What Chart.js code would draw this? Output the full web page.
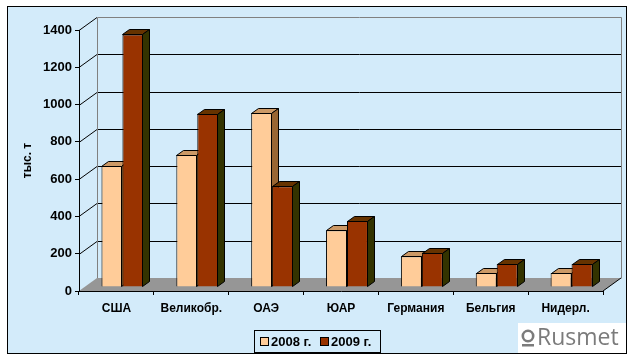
<!DOCTYPE html>
<html>
<head>
<meta charset="utf-8">
<script src="https://cdn.jsdelivr.net/npm/chart.js"></script>
<style>
  html, body { margin: 0; padding: 0; background: #fff; }
  canvas { display: block; }
</style>
</head>
<body>
<canvas id="importChart" width="637" height="362"></canvas>
<script>
// Imports by country, thousand tonnes
const countries = ['США', 'Великобр.', 'ОАЭ', 'ЮАР', 'Германия', 'Бельгия', 'Нидерл.'];
const values2008 = [650, 710, 935, 305, 165, 75, 75];
const values2009 = [1355, 930, 540, 355, 185, 125, 125];
const seriesNames = ['2008 г.', '2009 г.'];
const yTicks = [0, 200, 400, 600, 800, 1000, 1200, 1400];

const FONT = "'Liberation Sans', Arial, sans-serif";
const BG = '#d3ebfa';

// 3d look: floor depth, where the bars stand, and bar depth
const wallDepth = { x: 18, y: 13 };
const barShift = { x: 6, y: 4 };
const barDepth = { x: 7, y: 5 };

const faceColors = ['#ffcc99', '#993300'];
const topColors = ['#cc9966', '#663300'];
const sideColors = ['#996633', '#333300'];

function poly(ctx, pts, fill, stroke) {
    ctx.beginPath();
    ctx.moveTo(pts[0][0], pts[0][1]);
    for (let i = 1; i < pts.length; i++) ctx.lineTo(pts[i][0], pts[i][1]);
    ctx.closePath();
    if (fill) { ctx.fillStyle = fill; ctx.fill(); }
    if (stroke) { ctx.strokeStyle = stroke; ctx.lineWidth = 1; ctx.stroke(); }
}

function line(ctx, x1, y1, x2, y2, color) {
    ctx.beginPath();
    ctx.moveTo(x1, y1);
    ctx.lineTo(x2, y2);
    ctx.strokeStyle = color;
    ctx.lineWidth = 1;
    ctx.stroke();
}

const chart3d = {
    id: 'chart3d',
    beforeDraw(chart) {
        const ctx = chart.ctx;
        const a = chart.chartArea;
        const ys = chart.scales.y;
        ctx.save();
        // outer frame
        ctx.fillStyle = '#fff';
        ctx.fillRect(0, 0, chart.width, chart.height);
        ctx.fillStyle = BG;
        ctx.fillRect(7.5, 6.5, 619, 347);
        ctx.strokeStyle = '#000';
        ctx.lineWidth = 1;
        ctx.strokeRect(7.5, 6.5, 619, 347);

        const bl = Math.round(a.left + wallDepth.x) + 0.5;
        const br = Math.round(a.right + wallDepth.x) + 0.5;
        const topY = Math.round(a.top - wallDepth.y) + 0.5;
        const botY = Math.round(a.bottom - wallDepth.y) + 0.5;

        // back wall grid + side wall diagonals
        yTicks.forEach(v => {
            const py = Math.round(ys.getPixelForValue(v)) + 0.5;
            if (v > 0 && v < ys.max) line(ctx, bl, py - wallDepth.y, br, py - wallDepth.y, '#000');
            if (v > 0) line(ctx, a.left, py, a.left + wallDepth.x, py - wallDepth.y, '#000');
        });
        line(ctx, bl, topY, br, topY, '#808080');
        line(ctx, bl, topY, bl, botY, '#808080');
        line(ctx, br, topY, br, botY, '#808080');

        // floor
        poly(ctx, [
            [a.left, a.bottom], [a.right, a.bottom],
            [a.right + wallDepth.x, a.bottom - wallDepth.y],
            [a.left + wallDepth.x, a.bottom - wallDepth.y]
        ], '#969696', null);
        line(ctx, a.right, a.bottom, a.right + wallDepth.x, a.bottom - wallDepth.y, '#000');
        ctx.restore();
    },
    // bars are drawn below, category by category, so neighbours overlap correctly
    beforeDatasetDraw() {
        return false;
    },
    afterDatasetsDraw(chart) {
        const ctx = chart.ctx;
        const metas = chart.getSortedVisibleDatasetMetas();
        ctx.save();
        ctx.translate(barShift.x, -barShift.y);
        countries.forEach((c, j) => {
            metas.forEach(meta => {
                const i = meta.index;
                const el = meta.data[j];
                el.draw(ctx, chart.chartArea);
                const p = el.getProps(['x', 'y', 'base', 'width'], true);
                const l = Math.round(p.x - p.width / 2) + 0.5;
                const r = Math.round(p.x + p.width / 2) - 0.5;
                const t = Math.round(p.y) + 0.5;
                const b = Math.round(p.base) - 0.5;
                poly(ctx, [[l, t], [l + barDepth.x, t - barDepth.y], [r + barDepth.x, t - barDepth.y], [r, t]], topColors[i], '#000');
                poly(ctx, [[r, t], [r + barDepth.x, t - barDepth.y], [r + barDepth.x, b - barDepth.y], [r, b]], sideColors[i], '#000');
            });
        });
        ctx.restore();
    },
    afterDraw(chart) {
        const ctx = chart.ctx;
        ctx.save();
        // legend
        ctx.fillStyle = BG;
        ctx.fillRect(254.5, 330.5, 126, 22);
        ctx.strokeStyle = '#000';
        ctx.lineWidth = 1;
        ctx.strokeRect(254.5, 330.5, 126, 22);
        ctx.font = 'bold 13px ' + FONT;
        ctx.textBaseline = 'middle';
        ctx.textAlign = 'left';
        const lx = [260, 320];
        chart.data.datasets.forEach((ds, k) => {
            ctx.fillStyle = ds.backgroundColor;
            ctx.fillRect(lx[k] + 0.5, 337.5, 8, 8);
            ctx.strokeRect(lx[k] + 0.5, 337.5, 8, 8);
            ctx.fillStyle = '#000';
            ctx.fillText(ds.label, lx[k] + 11, 342);
        });

        // Rusmet mark
        ctx.fillStyle = '#fff';
        ctx.fillRect(518, 323, 108, 30);
        ctx.strokeStyle = '#7b7b7b';
        ctx.lineWidth = 2.6;
        ctx.beginPath();
        ctx.arc(528, 336, 5.2, 0, Math.PI * 2);
        ctx.stroke();
        ctx.fillStyle = '#7b7b7b';
        ctx.fillRect(522, 344, 12, 2.5);
        ctx.font = "23px 'Open Sans', sans-serif";
        ctx.textBaseline = 'alphabetic';
        ctx.fillText('Rusmet', 537, 345);
        ctx.restore();
    }
};

new Chart(document.getElementById('importChart'), {
    type: 'bar',
    data: {
        labels: countries,
        datasets: [{
            label: seriesNames[0],
            data: values2008,
            backgroundColor: faceColors[0],
            borderColor: '#000',
            borderWidth: 1
        }, {
            label: seriesNames[1],
            data: values2009,
            backgroundColor: faceColors[1],
            borderColor: '#000',
            borderWidth: 1
        }]
    },
    options: {
        responsive: false,
        animation: false,
        layout: {
            padding: { left: 0, right: 34, top: 30, bottom: 31 }
        },
        datasets: {
            bar: { categoryPercentage: 0.56, barPercentage: 1 }
        },
        plugins: {
            legend: { display: false },
            tooltip: { enabled: false }
        },
        scales: {
            x: {
                afterFit: s => { s.height = 40; },
                grid: { drawOnChartArea: false, tickLength: 4, color: '#000' },
                border: { color: '#000', width: 1 },
                ticks: {
                    color: '#000',
                    padding: 6,
                    font: { family: FONT, size: 12, weight: 'bold' }
                }
            },
            y: {
                min: 0,
                max: 1400,
                afterFit: s => { s.width = 79; },
                afterBuildTicks: s => { s.ticks = yTicks.map(v => ({ value: v })); },
                grid: { drawOnChartArea: false, tickLength: 4, color: '#000' },
                border: { color: '#000', width: 1 },
                ticks: {
                    color: '#000',
                    padding: 3,
                    callback: v => String(v),
                    font: { family: FONT, size: 13, weight: 'bold' }
                },
                title: {
                    display: true,
                    text: 'тыс. т',
                    color: '#000',
                    padding: { top: 20, bottom: 0 },
                    font: { family: FONT, size: 12, weight: 'bold' }
                }
            }
        }
    },
    plugins: [chart3d]
});
</script>
</body>
</html>
